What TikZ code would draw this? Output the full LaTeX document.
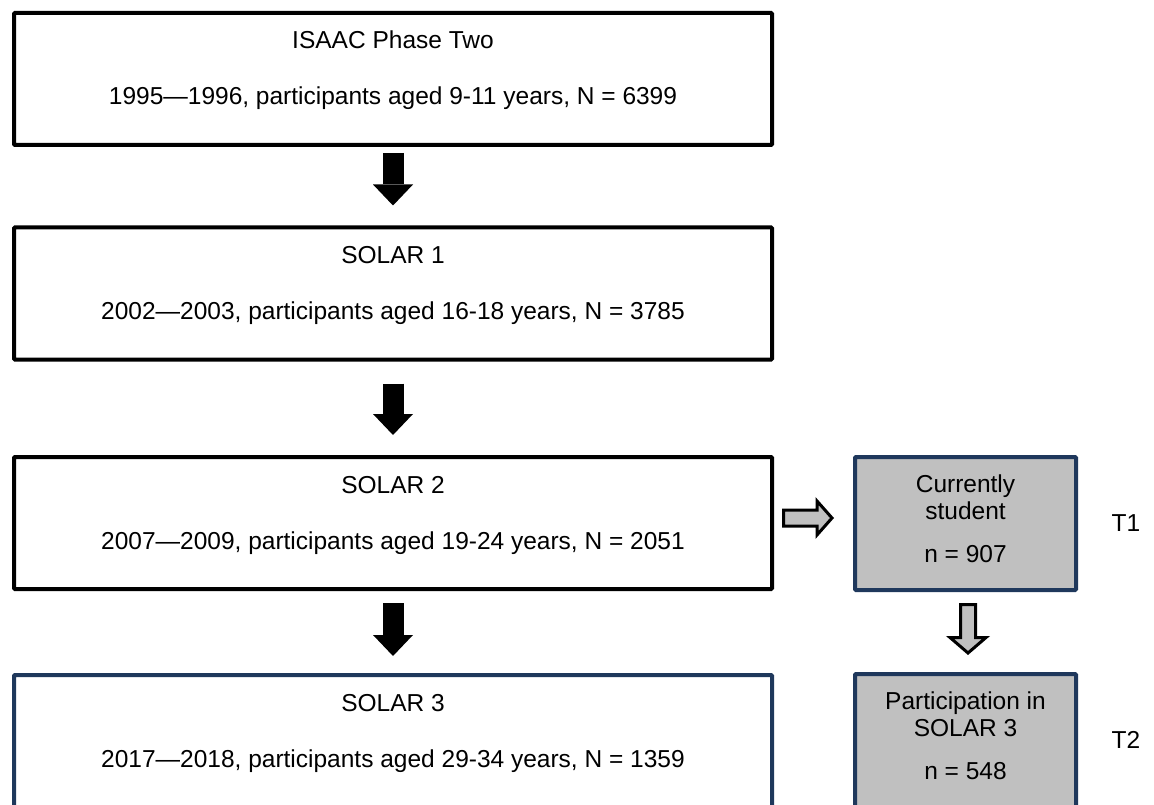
\documentclass[tikz,border=0pt]{standalone}
\usepackage{fontspec}
\setmainfont{Liberation Sans}
\usetikzlibrary{arrows.meta, positioning, calc}

\definecolor{boxnavy}{RGB}{31,56,92}
\definecolor{boxgray}{RGB}{192,192,192}

\begin{document}
\begin{tikzpicture}[
        x=1pt, y=-1pt,
        font=\fontsize{24.5}{29}\selectfont,
        stage/.style={draw, line width=4pt, rounded corners=1pt, minimum width=758pt, minimum height=132pt, inner sep=0pt},
        subset/.style={draw=boxnavy, fill=boxgray, line width=4pt, rounded corners=1pt, minimum width=221pt, minimum height=133pt, inner sep=0pt},
        lbl/.style={anchor=base, inner sep=0pt},
        bigarrow/.style={line width=21pt, -{Triangle[width=40pt, length=21pt, line width=0pt]}},
        grayarrow/.style={draw, fill=boxgray, line width=3pt, line join=miter},
    ]

    \useasboundingbox (0,0) rectangle (1154,805);

    % ---- study waves ----
    \node[stage] (isaac) at (393,79) {};
    \node[lbl] (isaactitle) at ($(isaac.north)+(0,38)$) {ISAAC Phase Two};
    \node[lbl] (isaacdata) at ($(isaac.north)+(0,94)$) {1995---1996, participants aged 9-11 years, N = 6399};

    \node[stage] (solarone) at (393,293.5) {};
    \node[lbl] (solaronetitle) at ($(solarone.north)+(0,38)$) {SOLAR 1};
    \node[lbl] (solaronedata) at ($(solarone.north)+(0,94)$) {2002---2003, participants aged 16-18 years, N = 3785};

    \node[stage] (solartwo) at (393,523) {};
    \node[lbl] (solartwotitle) at ($(solartwo.north)+(0,38)$) {SOLAR 2};
    \node[lbl] (solartwodata) at ($(solartwo.north)+(0,94)$) {2007---2009, participants aged 19-24 years, N = 2051};

    \node[stage, draw=boxnavy] (solarthree) at (393,741) {};
    \node[lbl] (solarthreetitle) at ($(solarthree.north)+(0,38)$) {SOLAR 3};
    \node[lbl] (solarthreedata) at ($(solarthree.north)+(0,94)$) {2017---2018, participants aged 29-34 years, N = 1359};

    % ---- subsample boxes ----
    \node[subset] (student) at (965.5,523.5) {};
    \node[lbl] (studentone) at ($(student.north)+(0,37)$) {Currently};
    \node[lbl] (studenttwo) at ($(student.north)+(0,64)$) {student};
    \node[lbl] (studentn) at ($(student.north)+(0,107)$) {n = 907};

    \node[subset] (partsolar) at (965.5,740.5) {};
    \node[lbl] (partsolarone) at ($(partsolar.north)+(0,37)$) {Participation in};
    \node[lbl] (partsolartwo) at ($(partsolar.north)+(0,64)$) {SOLAR 3};
    \node[lbl] (partsolarn) at ($(partsolar.north)+(0,107)$) {n = 548};

    % ---- time points ----
    \node[lbl] (tone) at ($(student.east)+(48,8)$) {T1};
    \node[lbl] (ttwo) at ($(partsolar.east)+(48,8)$) {T2};

    % ---- black arrows between waves ----
    \draw[bigarrow, shorten <=6pt, shorten >=20pt] (isaac.south) -- (solarone.north);
    \draw[bigarrow, shorten <=22pt, shorten >=20pt] (solarone.south) -- (solartwo.north);
    \draw[bigarrow, shorten <=12pt, shorten >=17pt] (solartwo.south) -- (solarthree.north);

    % ---- gray arrows: SOLAR 2 -> student -> participation ----
    \draw[grayarrow] ($(solartwo.east)+(9.5,-5)$) ++(0,-8) -- ++(33.5,0) -- ++(0,-9) -- ++(15,17) -- ++(-15,17) -- ++(0,-9) -- ++(-33.5,0) -- cycle;
    \draw[grayarrow] ($(student.south)+(2.5,12.5)$) ++(-7.5,0) -- ++(15,0) -- ++(0,33) -- ++(10.5,0) -- ++(-18,15.5) -- ++(-18,-15.5) -- ++(10.5,0) -- cycle;

\end{tikzpicture}
\end{document}
